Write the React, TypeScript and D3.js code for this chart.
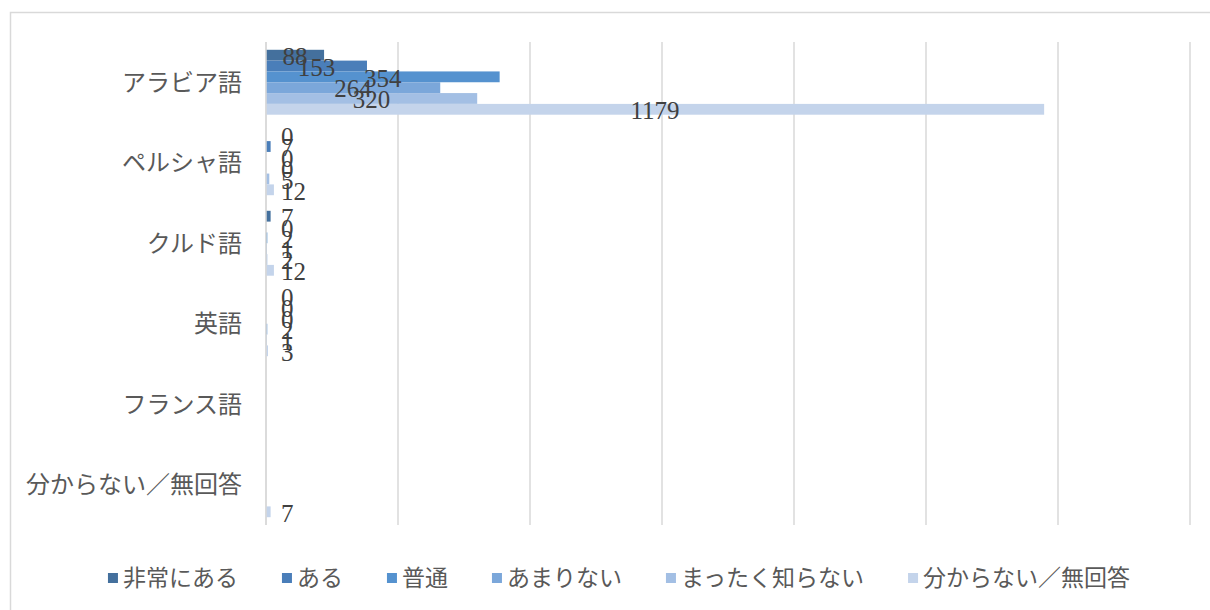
import { useEffect, useRef } from 'react';
import * as d3 from 'd3';

// カテゴリ（言語）
const languages = ['アラビア語', 'ペルシャ語', 'クルド語', '英語', 'フランス語', '分からない／無回答'];

// 系列名
const seriesNames = ['非常にある', 'ある', '普通', 'あまりない', 'まったく知らない', '分からない／無回答'];

// 系列ごとの値（languages の順、null はデータなし）
const veryMuch: (number | null)[] = [88, 0, 7, 0, null, null];
const some: (number | null)[] = [153, 7, 0, 0, null, null];
const normal: (number | null)[] = [354, 0, 2, 0, null, null];
const notMuch: (number | null)[] = [264, 0, 1, 2, null, null];
const notAtAll: (number | null)[] = [320, 5, 2, 1, null, null];
const unknown: (number | null)[] = [1179, 12, 12, 3, null, 7];

const seriesValues = [veryMuch, some, normal, notMuch, notAtAll, unknown];
const seriesColors = ['#44709d', '#4a7eb9', '#5592cf', '#7ba7da', '#a3bfe4', '#c4d4eb'];

const xTicks = [0, 200, 400, 600, 800, 1000, 1200, 1400];

export default function App() {
  const svgRef = useRef<SVGSVGElement>(null);

  useEffect(() => {
    if (!svgRef.current) return;
    const svg = d3.select(svgRef.current);
    svg.selectAll('*').remove();

    const width = 1210;
    const height = 610;
    const plot = { left: 266, right: 1190, top: 42, bottom: 525 };
    const jpFont = '"Noto Sans CJK JP", sans-serif';

    // 外枠
    svg.append('rect')
      .attr('x', 10.5).attr('y', 12.5)
      .attr('width', 1230).attr('height', 640)
      .attr('fill', 'white')
      .attr('stroke', '#d9d9d9')
      .attr('stroke-width', 1.5);

    const x = d3.scaleLinear().domain([0, 1400]).range([plot.left, plot.right]);
    const y0 = d3.scaleBand().domain(languages).range([plot.top, plot.bottom]).padding(0);
    const y1 = d3.scaleBand()
      .domain(seriesNames)
      .range([0, y0.bandwidth()])
      .paddingInner(0)
      .paddingOuter(0.72);

    // グリッド線
    svg.append('g')
      .selectAll('line')
      .data(xTicks)
      .enter()
      .append('line')
      .attr('x1', d => x(d)).attr('x2', d => x(d))
      .attr('y1', plot.top).attr('y2', plot.bottom)
      .attr('stroke', '#d9d9d9')
      .attr('stroke-width', 1.5);

    // バー
    const rows = languages.map((lang, i) => ({
      lang,
      items: seriesNames.map((s, j) => ({ series: s, value: seriesValues[j][i], color: seriesColors[j] })),
    }));

    const groups = svg.append('g')
      .selectAll('g')
      .data(rows)
      .enter()
      .append('g')
      .attr('transform', d => `translate(0,${y0(d.lang)})`);

    groups.selectAll('rect')
      .data(d => d.items.filter(it => it.value !== null))
      .enter()
      .append('rect')
      .attr('x', x(0))
      .attr('y', d => y1(d.series) || 0)
      .attr('width', d => x(d.value as number) - x(0))
      .attr('height', y1.bandwidth())
      .attr('fill', d => d.color);

    // データラベル（バーの中央、左端は軸から少し離す）
    const fontSize = 25;
    groups.selectAll('text')
      .data(d => d.items.filter(it => it.value !== null))
      .enter()
      .append('text')
      .attr('x', d => {
        const v = d.value as number;
        const w = String(v).length * fontSize * 0.5;
        const cx = (x(0) + x(v)) / 2;
        return Math.max(cx, plot.left + 15 + w / 2);
      })
      .attr('y', d => (y1(d.series) || 0) + y1.bandwidth() / 2 + 1)
      .attr('dy', '0.35em')
      .attr('text-anchor', 'middle')
      .attr('font-family', '"Liberation Serif", serif')
      .attr('font-size', fontSize)
      .attr('fill', '#404040')
      .text(d => String(d.value));

    // カテゴリ軸の線
    svg.append('line')
      .attr('x1', plot.left).attr('x2', plot.left)
      .attr('y1', plot.top).attr('y2', plot.bottom)
      .attr('stroke', '#d9d9d9')
      .attr('stroke-width', 1.5);

    // カテゴリラベル
    svg.append('g')
      .selectAll('text')
      .data(languages)
      .enter()
      .append('text')
      .attr('x', 242)
      .attr('y', d => (y0(d) || 0) + y0.bandwidth() / 2)
      .attr('dy', '0.35em')
      .attr('text-anchor', 'end')
      .attr('font-family', jpFont)
      .attr('font-size', 24)
      .attr('fill', '#595959')
      .text(d => d);

    // 凡例
    const legend = svg.append('g');
    const legendY = 578;
    const items = legend.selectAll('g')
      .data(seriesNames)
      .enter()
      .append('g');
    items.append('rect')
      .attr('width', 10).attr('height', 10)
      .attr('y', legendY - 5)
      .attr('fill', (_, i) => seriesColors[i]);
    items.append('text')
      .attr('x', 15)
      .attr('y', legendY)
      .attr('dy', '0.35em')
      .attr('font-family', jpFont)
      .attr('font-size', 23)
      .attr('fill', '#595959')
      .text(d => d);

    const gap = 44;
    const widths: number[] = [];
    items.each(function () {
      const t = d3.select(this).select('text').node() as SVGTextElement;
      widths.push(15 + t.getComputedTextLength());
    });
    const total = d3.sum(widths) + gap * (widths.length - 1);
    let cursor = 619 - total / 2;
    items.attr('transform', (_, i) => {
      const tx = cursor;
      cursor += widths[i] + gap;
      return `translate(${tx},0)`;
    });

    svg.attr('width', width).attr('height', height);
  }, []);

  return (
    <svg
      ref={svgRef}
      width={1210}
      height={610}
      style={{ position: 'absolute', left: 0, top: 0, background: 'white' }}
    />
  );
}
